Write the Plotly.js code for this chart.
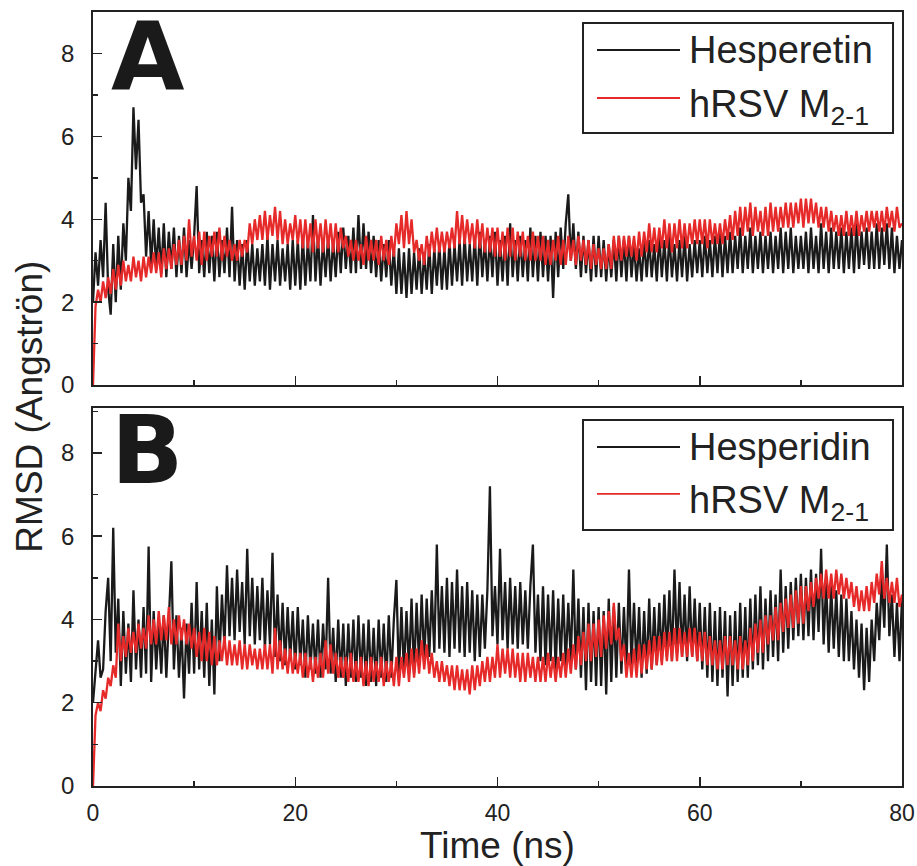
<!DOCTYPE html>
<html>
<head>
<meta charset="utf-8">
<script src="https://cdn.plot.ly/plotly-3.0.1.min.js"></script>
<style>html,body{margin:0;padding:0;background:#fff;}#plot{width:917px;height:866px;}</style>
</head>
<body>
<div id="plot"></div>
<script>
// Time axis: samples every 0.25 ns from 0 to 80 ns
const timeStart = 0;
const timeStep = 0.25;

// Panel A: Hesperetin complex (RMSD, Angstrom)
const hesperetinA = [
2.0,3.2,2.4,3.5,2.6,4.4,2.3,1.7,3.4,2.0,3.6,2.3,3.9,3.0,5.0,4.2,6.7,5.2,6.4,4.4,
4.6,3.1,4.2,2.9,4.0,2.8,3.8,2.7,3.9,2.6,3.7,2.8,3.8,2.6,3.6,2.7,3.8,2.6,3.5,2.8,
3.6,4.8,2.7,3.5,2.6,3.7,2.7,3.6,2.5,3.7,2.6,3.5,2.7,3.8,2.6,4.3,2.5,3.5,2.4,3.4,
2.3,3.5,2.5,3.4,2.4,3.3,2.5,3.4,2.4,3.6,2.3,3.4,2.5,3.5,2.4,3.3,2.5,3.4,2.3,3.5,
2.4,3.5,2.3,3.6,2.4,3.5,2.5,4.1,2.5,3.6,2.4,3.5,2.6,3.6,2.5,3.5,2.6,3.7,2.7,3.8,
2.8,3.6,2.7,3.8,2.7,4.1,2.8,3.9,2.8,3.7,2.7,3.6,2.6,3.5,2.5,3.4,2.6,3.5,2.4,3.3,
2.2,3.3,2.2,3.2,2.1,3.3,2.2,3.2,2.3,3.3,2.2,3.2,2.3,3.4,2.2,3.3,2.4,3.4,2.3,3.3,
2.3,3.5,2.4,3.4,2.5,3.5,2.4,3.6,2.5,3.4,2.5,3.6,2.4,3.7,2.6,3.5,2.5,3.6,2.6,3.7,
2.4,3.5,2.5,3.6,2.4,3.9,2.6,3.5,2.5,3.6,2.6,3.5,2.5,3.8,2.6,3.6,2.5,3.7,2.6,3.6,
2.5,3.6,2.1,3.7,2.6,3.8,2.8,3.9,4.6,3.0,3.9,2.8,3.7,2.6,3.6,2.7,3.5,2.5,3.6,2.6,
3.6,2.6,3.5,2.5,3.4,2.6,3.5,2.5,3.6,2.6,3.5,2.5,3.6,2.6,3.4,2.5,3.3,2.5,3.5,2.6,
3.5,2.6,3.4,2.5,3.6,2.6,3.5,2.5,3.6,2.6,3.4,2.5,3.5,2.6,3.6,2.5,3.4,2.6,3.5,2.7,
3.5,2.6,3.6,2.7,3.5,2.6,3.6,2.7,3.7,2.6,3.6,2.7,3.7,2.7,3.6,2.8,3.8,2.7,3.6,2.8,
3.8,2.7,3.6,2.8,3.7,2.7,3.6,2.8,3.7,2.7,3.6,2.8,3.8,2.7,3.7,2.8,3.8,2.7,3.6,2.8,
3.6,2.8,3.7,2.7,3.8,2.8,3.6,2.7,3.9,2.8,3.7,2.7,3.8,2.8,3.7,2.8,3.8,2.7,3.7,2.8,
3.8,2.7,3.9,2.8,3.7,2.9,3.8,2.8,3.7,2.8,3.9,2.8,3.8,2.9,3.9,2.8,3.8,2.7,3.6,2.8,
3.5];
const m21A = [
0,1.9,2.3,2.0,2.5,2.1,2.6,2.2,2.8,2.3,2.9,2.4,3.0,2.5,2.9,2.5,3.1,2.6,3.0,2.5,
3.1,2.6,3.1,2.7,3.2,2.7,3.2,2.6,3.3,2.8,3.3,2.8,3.4,2.9,3.5,2.9,3.6,3.0,4.0,3.1,
3.6,3.0,3.7,2.9,3.7,3.0,3.6,3.1,3.7,3.1,3.8,3.0,3.6,3.1,3.5,3.0,3.4,3.0,3.5,3.1,
3.5,3.2,3.9,3.4,4.0,3.5,4.1,3.5,4.2,3.5,4.1,3.6,4.3,3.5,4.2,3.4,4.0,3.4,3.9,3.5,
4.1,3.4,4.0,3.3,4.0,3.3,3.9,3.2,4.0,3.3,3.9,3.2,4.0,3.3,3.9,3.2,3.9,3.2,3.8,3.3,
3.6,3.1,3.5,3.0,3.5,3.0,3.4,2.9,3.6,3.0,3.5,3.0,3.5,2.9,3.6,3.0,3.5,2.9,3.6,3.1,
3.9,3.4,4.1,3.3,4.2,3.4,4.0,3.2,3.5,3.0,3.4,2.9,3.6,3.1,3.7,3.2,3.8,3.2,3.7,3.2,
3.7,3.3,3.8,3.3,4.2,3.4,4.1,3.4,4.0,3.4,3.9,3.3,4.0,3.3,3.9,3.2,3.8,3.2,3.8,3.1,
3.8,3.1,3.7,3.0,3.8,3.1,3.8,3.0,3.7,3.1,3.7,3.0,3.6,3.0,3.7,3.0,3.6,3.0,3.6,2.9,
3.5,2.9,3.5,3.0,3.6,2.9,3.5,2.9,3.6,3.0,3.5,2.9,3.6,3.0,3.5,2.9,3.5,2.8,3.4,2.9,
3.3,2.8,3.3,2.8,3.4,2.8,3.6,3.0,3.6,3.0,3.6,3.1,3.6,3.1,3.6,3.0,3.7,3.1,3.7,3.2,
3.9,3.2,3.8,3.2,3.8,3.3,4.0,3.3,3.9,3.2,3.9,3.3,4.0,3.3,3.9,3.3,3.9,3.4,4.0,3.4,
4.0,3.4,4.0,3.3,4.0,3.4,3.9,3.4,3.9,3.4,4.0,3.5,4.1,3.5,4.2,3.6,4.3,3.6,4.3,3.7,
4.4,3.6,4.3,3.7,4.2,3.6,4.3,3.6,4.4,3.7,4.3,3.7,4.3,3.8,4.4,3.8,4.4,3.8,4.4,3.9,
4.5,3.8,4.5,3.9,4.5,3.9,4.4,3.8,4.3,3.8,4.3,3.7,4.2,3.7,4.1,3.6,4.1,3.6,4.2,3.6,
4.1,3.6,4.2,3.6,4.1,3.7,4.2,3.7,4.2,3.8,4.2,3.7,4.2,3.7,4.3,3.8,4.2,3.7,4.3,3.8,
3.9];

// Panel B: Hesperidin complex (RMSD, Angstrom)
const hesperidinB = [
2.0,2.8,3.5,2.6,2.8,4.2,5.0,3.0,6.2,3.2,4.5,2.4,4.2,2.7,3.9,2.5,4.7,2.8,4.0,2.6,
4.3,2.7,5.75,2.5,4.2,2.8,3.9,2.7,4.1,2.6,4.0,5.4,2.8,4.1,2.6,3.8,2.1,3.9,2.7,4.4,
2.7,4.9,2.8,4.2,2.6,4.4,2.4,4.0,2.2,4.8,3.0,4.6,3.4,5.3,3.6,5.0,3.5,5.2,3.7,4.9,
3.4,5.7,3.6,5.0,3.4,4.8,3.5,5.0,3.3,4.7,3.4,5.6,3.1,4.6,3.0,4.4,2.9,4.3,3.0,4.2,
2.8,4.3,2.9,4.0,2.6,4.1,2.8,3.9,2.7,4.0,2.6,3.9,2.8,5.0,2.7,3.8,2.5,4.0,2.6,3.9,
2.4,3.9,2.6,4.0,2.5,4.1,2.6,3.9,2.4,4.0,2.5,3.8,2.4,4.0,2.6,3.9,2.5,4.1,2.6,4.0,
4.95,2.6,4.3,2.7,4.2,2.8,4.5,2.7,4.4,2.9,4.6,3.0,4.5,3.1,4.7,3.2,5.8,3.3,4.8,3.2,
5.0,3.1,4.9,3.3,5.2,3.2,4.8,3.1,4.9,3.2,4.7,3.0,4.6,3.1,4.6,3.3,4.7,7.2,3.6,4.8,
3.4,5.7,3.5,4.9,3.3,5.0,3.4,4.8,3.3,4.9,3.4,4.7,3.3,4.8,5.8,3.2,4.6,3.0,4.8,2.9,
4.6,3.0,4.7,2.8,4.5,3.0,4.6,2.9,4.4,3.0,5.2,2.8,4.5,2.6,4.3,2.3,4.4,2.5,4.2,2.4,
4.3,2.4,4.2,2.2,4.5,2.5,4.3,2.6,4.4,2.7,4.3,2.8,5.2,2.9,4.4,2.8,4.3,2.6,4.2,2.7,
4.5,2.8,4.3,2.9,4.4,3.0,4.6,3.1,4.7,3.0,5.2,3.2,4.9,3.1,4.6,3.0,4.8,3.1,4.5,3.0,
4.4,2.8,4.3,2.6,4.4,2.5,4.2,2.4,4.3,2.6,4.2,2.15,4.1,2.4,4.2,2.5,4.4,2.6,4.3,2.6,
4.5,2.8,4.6,2.9,4.8,2.8,4.5,3.0,4.7,3.1,4.6,3.0,5.2,3.2,4.8,3.3,4.9,3.5,5.0,3.6,
5.1,3.5,5.0,3.6,5.2,3.5,5.1,3.7,5.7,3.4,4.9,3.2,4.8,3.3,4.7,3.1,4.6,3.0,4.5,3.0,
4.2,2.8,4.0,2.6,3.9,2.3,3.8,2.5,4.0,3.0,4.4,3.5,5.0,3.8,5.8,3.6,4.6,3.1,4.4,3.0,
4.5];
const m21B = [
0,1.7,2.0,1.8,2.3,2.1,2.6,2.4,2.9,2.6,3.9,3.0,3.6,3.1,3.8,3.2,3.7,3.2,3.9,3.3,
3.8,3.3,4.1,3.4,4.0,3.4,4.2,3.5,4.1,3.5,4.3,3.4,4.0,3.4,4.1,3.5,4.0,3.4,3.9,3.3,
3.8,3.1,3.7,3.0,3.8,3.0,3.7,2.9,3.6,2.9,3.5,3.0,3.6,2.9,3.5,2.9,3.4,2.9,3.5,2.8,
3.4,2.8,3.4,2.9,3.3,2.8,3.3,2.8,3.4,2.8,3.4,2.7,3.8,2.8,3.5,2.8,3.3,2.7,3.3,2.7,
3.2,2.7,3.2,2.6,3.2,2.6,3.1,2.5,3.1,2.6,3.2,2.6,3.5,2.7,3.4,2.7,3.2,2.6,3.1,2.6,
3.1,2.5,3.2,2.5,3.0,2.5,3.1,2.4,3.0,2.4,3.1,2.5,3.0,2.5,3.1,2.4,3.0,2.5,3.0,2.4,
3.1,2.4,3.1,2.6,3.2,2.5,3.3,2.6,3.3,2.7,3.5,2.8,3.4,2.7,3.2,2.6,3.0,2.5,3.0,2.5,
2.9,2.4,2.9,2.3,2.9,2.3,2.8,2.3,2.8,2.2,2.9,2.3,2.9,2.4,3.0,2.5,3.1,2.5,3.1,2.6,
3.4,2.6,3.3,2.7,3.3,2.6,3.3,2.6,3.2,2.5,3.2,2.5,3.2,2.6,3.1,2.5,3.1,2.5,3.1,2.5,
3.2,2.6,3.1,2.5,3.1,2.6,3.2,2.6,3.3,2.7,3.4,2.8,3.6,2.9,3.7,3.0,3.9,3.0,3.9,3.1,
4.0,3.1,4.1,3.3,4.2,3.4,4.4,3.5,3.8,3.0,3.4,2.6,3.2,2.6,3.3,2.6,3.4,2.7,3.4,2.8,
3.5,2.8,3.6,2.9,3.6,2.9,3.7,3.0,3.7,3.0,3.8,3.0,3.8,3.1,3.7,3.1,3.8,3.1,3.8,3.0,
3.7,3.0,3.7,2.9,3.6,2.9,3.5,2.8,3.5,2.8,3.6,2.9,3.6,2.9,3.5,2.8,3.6,2.8,3.5,2.9,
3.8,3.0,3.9,3.2,4.0,3.2,4.1,3.4,4.1,3.5,4.3,3.5,4.4,3.7,4.5,3.8,4.6,3.8,4.7,3.9,
4.8,3.9,4.8,4.2,4.9,4.3,5.0,4.5,5.1,4.5,5.2,4.5,5.1,4.5,5.2,4.6,5.1,4.5,5.0,4.5,
4.9,4.3,4.8,4.2,4.7,4.2,4.8,4.2,4.9,4.4,5.1,4.6,5.4,4.5,5.0,4.4,4.9,4.4,5.0,4.3,
4.6];

[hesperetinA, m21A, hesperidinB, m21B].forEach(function (a, i) {
  if (a.length !== 321) throw new Error('series ' + i + ' has ' + a.length + ' values');
});

const xTicks = [0, 20, 40, 60, 80];
const yTicks = [0, 2, 4, 6, 8];
const seriesNames = ['Hesperetin', 'hRSV M<sub>2-1</sub>', 'Hesperidin', 'hRSV M<sub>2-1</sub>'];

const FONT = 'Liberation Sans, Arial, sans-serif';
const BLACK = '#1a1a1a';
const RED = '#e62a2a';
const INK = '#222';

function trace(y, name, color, xa, ya) {
  return {x0: timeStart, dx: timeStep, y: y, type: 'scatter', mode: 'lines', name: name,
          line: {color: color, width: 2.3}, xaxis: xa, yaxis: ya, showlegend: false};
}
const traces = [
  trace(hesperetinA, seriesNames[0], BLACK, 'x', 'y'),
  trace(m21A, seriesNames[1], RED, 'x', 'y'),
  trace(hesperidinB, seriesNames[2], BLACK, 'x2', 'y2'),
  trace(m21B, seriesNames[3], RED, 'x2', 'y2')
];

function xAxis(labels, anchor) {
  return {
    anchor: anchor, range: [0, 80], tickvals: xTicks, ticktext: xTicks.map(String),
    showticklabels: labels, ticks: 'inside', ticklen: 9, tickwidth: 1.5, tickcolor: INK,
    minor: {ticks: 'inside', ticklen: 5, tickwidth: 1.5, tickcolor: INK, dtick: 10, tick0: 0, showgrid: false},
    showline: true, mirror: true, linecolor: INK, linewidth: 1.8,
    showgrid: false, zeroline: false,
    tickfont: {family: FONT, size: 23, color: INK}, ticklabelstandoff: 6
  };
}
function yAxis(domain, top, anchor) {
  return {
    anchor: anchor, domain: domain, range: [0, top], tickvals: yTicks, ticktext: yTicks.map(String),
    ticks: 'inside', ticklen: 9, tickwidth: 1.5, tickcolor: INK,
    minor: {ticks: 'inside', ticklen: 5, tickwidth: 1.5, tickcolor: INK, dtick: 1, tick0: 0, showgrid: false},
    showline: true, mirror: true, linecolor: INK, linewidth: 1.8,
    showgrid: false, zeroline: false,
    tickfont: {family: FONT, size: 24, color: INK}, ticklabelstandoff: 12
  };
}

// Legend boxes drawn in paper coordinates (box, sample lines, labels)
function legendParts(top, bottom, row1, row2, name1, name2) {
  const shapes = [
    {type: 'rect', xref: 'paper', yref: 'paper', x0: 0.6057, x1: 0.9889, y0: bottom, y1: top,
     line: {color: INK, width: 2}, fillcolor: 'rgba(0,0,0,0)'},
    {type: 'line', xref: 'paper', yref: 'paper', x0: 0.623, x1: 0.7256, y0: row1, y1: row1,
     line: {color: BLACK, width: 1.8}},
    {type: 'line', xref: 'paper', yref: 'paper', x0: 0.623, x1: 0.7256, y0: row2, y1: row2,
     line: {color: RED, width: 1.8}}
  ];
  const anns = [
    {xref: 'paper', yref: 'paper', x: 0.734, y: row1, xanchor: 'left', yanchor: 'middle', showarrow: false,
     text: name1, font: {family: FONT, size: 38, color: INK}},
    {xref: 'paper', yref: 'paper', x: 0.734, y: row2 - 0.012, xanchor: 'left', yanchor: 'middle', showarrow: false,
     text: name2, font: {family: FONT, size: 38, color: INK}}
  ];
  return {shapes: shapes, anns: anns};
}
const legA = legendParts(0.9858, 0.8437, 0.9509, 0.8889, seriesNames[0], seriesNames[1]);
const legB = legendParts(0.4729, 0.3307, 0.4380, 0.3773, seriesNames[2], seriesNames[3]);

const xa2 = xAxis(true, 'y2');
xa2.title = {text: 'Time (ns)', font: {family: FONT, size: 37, color: INK}, standoff: 8};

const layout = {
  width: 917, height: 866,
  margin: {l: 93, r: 15, t: 12, b: 80},
  paper_bgcolor: '#fff', plot_bgcolor: '#fff',
  showlegend: false,
  xaxis: xAxis(false, 'y'),
  yaxis: yAxis([0.518, 1], 9.0, 'x'),
  xaxis2: Object.assign(xa2, {matches: 'x'}),
  yaxis2: yAxis([0, 0.4884], 9.08, 'x2'),
  shapes: legA.shapes.concat(legB.shapes),
  annotations: [
    {xref: 'paper', yref: 'paper', x: 0.02, y: 1.0155, xanchor: 'left', yanchor: 'top', showarrow: false,
     text: '<b>A</b>', font: {family: 'DejaVu Sans', size: 95, color: '#1a1a1a'}},
    {xref: 'paper', yref: 'paper', x: 0.02, y: 0.5078, xanchor: 'left', yanchor: 'top', showarrow: false,
     text: '<b>B</b>', font: {family: 'DejaVu Sans', size: 95, color: '#1a1a1a'}},
    {xref: 'paper', yref: 'paper', x: -0.078, y: 0.49, xanchor: 'center', yanchor: 'middle', showarrow: false,
     textangle: -90, text: 'RMSD (Angströn)', font: {family: FONT, size: 37, color: INK}}
  ].concat(legA.anns, legB.anns)
};

Plotly.newPlot('plot', traces, layout, {staticPlot: true, displayModeBar: false});
</script>
</body>
</html>
